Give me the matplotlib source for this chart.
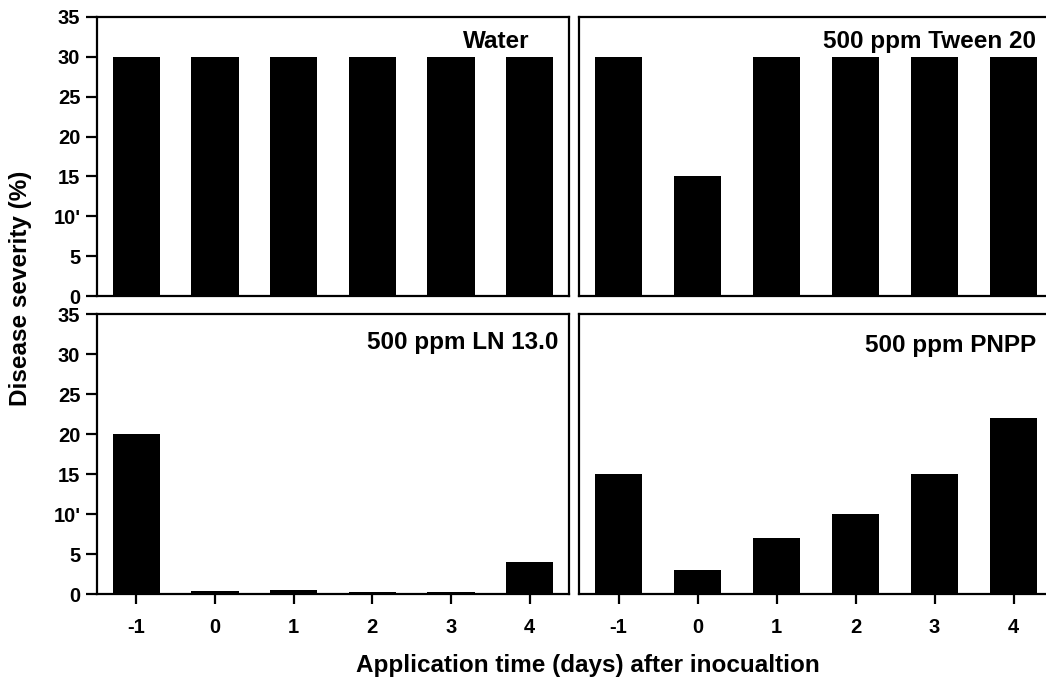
import matplotlib
matplotlib.use("Agg")
import matplotlib.pyplot as plt

# -------------------------------------------------
# Data
# -------------------------------------------------
days = [-1, 0, 1, 2, 3, 4]
day_labels = ["-1", "0", "1", "2", "3", "4"]

water = [30, 30, 30, 30, 30, 30]
tween20 = [30, 15, 30, 30, 30, 30]
ln13 = [20, 0.4, 0.5, 0.3, 0.2, 4]
pnpp = [15, 3, 7, 10, 15, 22]

panel_titles = ["Water", "500 ppm Tween 20", "500 ppm LN 13.0", "500 ppm PNPP"]
y_ticks = [0, 5, 10, 15, 20, 25, 30, 35]
y_tick_labels = ["0", "5", "10'", "15", "20", "25", "30", "35"]

plt.rcParams["font.family"] = ["Liberation Sans", "DejaVu Sans"]
plt.rcParams["font.weight"] = "bold"

W, H = 1046, 680
fig = plt.figure(figsize=(W / 100, H / 100), dpi=100)


def px_axes(left, top, right, bottom):
    """Add axes from pixel edges (origin top-left)."""
    return fig.add_axes([left / W, 1 - bottom / H, (right - left) / W, (bottom - top) / H])


ax_tl = px_axes(97, 17, 569, 296)
ax_tr = px_axes(579, 17, 1053, 296)
ax_bl = px_axes(97, 314, 569, 594)
ax_br = px_axes(579, 314, 1053, 594)

# (axes, values, title, title x, title baseline y) in axes fraction
panels = [
    (ax_tl, water, panel_titles[0], 0.917, 0.889),
    (ax_tr, tween20, panel_titles[1], 0.964, 0.889),
    (ax_bl, ln13, panel_titles[2], 0.977, 0.875),
    (ax_br, pnpp, panel_titles[3], 0.964, 0.864),
]

for ax, vals, title, tx, ty in panels:
    ax.bar(days, vals, width=0.6, color="black", edgecolor="none")
    ax.set_xlim(-1.5, 4.5)
    ax.set_ylim(0, 35)
    for s in ax.spines.values():
        s.set_linewidth(1.6)
    ax.tick_params(direction="out", width=1.6, labelsize=14.5)
    ax.tick_params(axis="y", length=8, pad=4)
    ax.text(tx, ty, title, transform=ax.transAxes, ha="right", va="baseline",
            fontsize=17.5, fontweight="bold")

for ax in (ax_tl, ax_bl):
    ax.set_yticks(y_ticks)
    ax.set_yticklabels(y_tick_labels)
for ax in (ax_tr, ax_br):
    ax.set_yticks([])
for ax in (ax_tl, ax_tr):
    ax.set_xticks([])
for ax in (ax_bl, ax_br):
    ax.set_xticks(days)
    ax.set_xticklabels(day_labels)
    ax.tick_params(axis="x", length=7, pad=10)

fig.text(21 / W, 1 - 288 / H, "Disease severity (%)", rotation=90, ha="center", va="center",
         fontsize=17.5, fontweight="bold")
fig.text(588 / W, 1 - 672 / H, "Application time (days) after inocualtion", ha="center",
         va="baseline", fontsize=17.5, fontweight="bold")

fig.savefig("out.png", dpi=100)
